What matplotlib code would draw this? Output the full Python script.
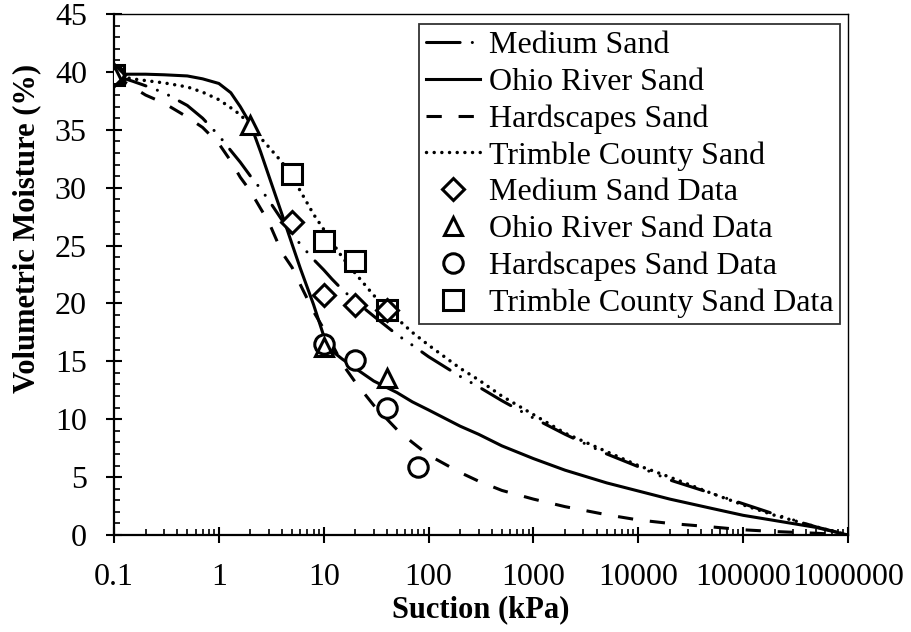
import matplotlib
matplotlib.use("Agg")
import matplotlib.pyplot as plt
from matplotlib.ticker import FixedLocator, FixedFormatter, LogLocator, MultipleLocator, NullFormatter

plt.rcParams["font.family"] = ["Liberation Serif", "DejaVu Serif"]

# fitted curves (suction in kPa, moisture in %)
suction = [0.1, 0.15, 0.2, 0.3, 0.5, 0.7, 1, 1.3, 1.6, 2, 2.5, 3, 4, 5, 6, 8, 10, 12, 15, 20,
           30, 50, 70, 100, 200, 300, 500, 1000, 2000, 5000, 1e4, 2e4, 5e4, 1e5, 2e5, 5e5, 1e6]
medium_fit = [39.7, 39.2, 38.8, 38.2, 37.1, 36.0, 34.5, 33.2, 32.2, 31.0, 29.9, 28.9, 27.2, 26.0,
              25.1, 23.8, 22.9, 22.1, 21.2, 20.2, 18.9, 17.3, 16.4, 15.4, 13.7, 12.8, 11.6, 10.1,
              8.7, 7.0, 5.9, 4.75, 3.6, 2.7, 1.8, 0.69, 0.0]
ohio_fit = [39.8, 39.8, 39.8, 39.75, 39.65, 39.4, 39.0, 38.2, 37.0, 35.5, 33.1, 31.0, 27.7, 25.1,
            23.0, 19.9, 17.2, 15.9, 15.2, 14.4, 13.3, 12.3, 11.5, 10.8, 9.4, 8.7, 7.7, 6.6,
            5.6, 4.5, 3.8, 3.1, 2.3, 1.7, 1.25, 0.65, 0.0]
hardscapes_fit = [39.7, 38.7, 38.0, 37.3, 36.1, 35.2, 33.8, 32.3, 30.9, 29.7, 28.2, 27.0, 24.4, 23.1,
                  21.6, 19.3, 17.8, 16.5, 14.8, 13.2, 11.2, 9.1, 8.0, 6.9, 5.4, 4.65, 3.85, 3.1,
                  2.45, 1.75, 1.3, 1.0, 0.7, 0.45, 0.3, 0.15, 0.0]
trimble_fit = [39.7, 39.4, 39.25, 39.05, 38.7, 38.25, 37.6, 36.9, 36.3, 35.4, 34.3, 33.5, 32.2, 30.9,
               29.7, 27.7, 26.4, 25.3, 24.0, 22.6, 20.7, 18.7, 17.5, 16.4, 14.4, 13.4, 12.0, 10.4,
               8.8, 7.2, 6.0, 5.0, 3.6, 2.6, 1.7, 0.7, 0.0]

# measured points
medium_x = [0.1, 5, 10, 20, 40]
medium_y = [39.7, 27.0, 20.7, 19.9, 19.4]
ohio_x = [0.1, 2, 10, 40]
ohio_y = [39.7, 35.4, 16.2, 13.6]
hardscapes_x = [0.1, 10, 20, 40, 80]
hardscapes_y = [39.7, 16.5, 15.1, 11.0, 5.9]
trimble_x = [0.1, 5, 10, 20, 40]
trimble_y = [39.7, 31.2, 25.4, 23.7, 19.4]

x_ticks = [0.1, 1, 10, 100, 1000, 10000, 100000, 1000000]
x_tick_labels = ["0.1", "1", "10", "100", "1000", "10000", "100000", "1000000"]

fig = plt.figure(figsize=(9.11, 6.32), dpi=100)
ax = fig.add_axes([114 / 911, 1 - 535 / 632, 734 / 911, 521 / 632])

lw = 2.2
ax.plot(suction, medium_fit, color="black", lw=lw, dashes=(11, 4, 0.01, 4, 0.01, 4),
        dash_capstyle="round", label="Medium Sand")
ax.plot(suction, ohio_fit, color="black", lw=lw, label="Ohio River Sand")
ax.plot(suction, hardscapes_fit, color="black", lw=lw, dashes=(5, 5.5), label="Hardscapes Sand")
ax.plot(suction, trimble_fit, color="black", lw=lw + 0.3, dashes=(0.01, 2.2),
        dash_capstyle="round", label="Trimble County Sand")

# white faces first, then all the outlines on top so overlapping markers stay visible
point_sets = [
    (medium_x, medium_y, "D", 11, "Medium Sand Data"),
    (ohio_x, ohio_y, "^", 13.5, "Ohio River Sand Data"),
    (hardscapes_x, hardscapes_y, "o", 14, "Hardscapes Sand Data"),
    (trimble_x, trimble_y, "s", 14, "Trimble County Sand Data"),
]
for xs, ys, marker, size, name in point_sets:
    ax.plot(xs, ys, linestyle="none", marker=marker, markersize=size,
            markerfacecolor="white", markeredgecolor="none", zorder=3)
for xs, ys, marker, size, name in point_sets:
    ax.plot(xs, ys, linestyle="none", marker=marker, markersize=size, markerfacecolor="none",
            markeredgecolor="black", markeredgewidth=2.2, zorder=4, label=name)

ax.set_xscale("log")
ax.set_xlim(0.1, 1e6)
ax.set_ylim(0, 45)
ax.xaxis.set_major_locator(FixedLocator(x_ticks))
ax.xaxis.set_major_formatter(FixedFormatter(x_tick_labels))
ax.xaxis.set_minor_locator(LogLocator(base=10, subs=range(2, 10), numticks=20))
ax.xaxis.set_minor_formatter(NullFormatter())
ax.yaxis.set_major_locator(MultipleLocator(5))
ax.yaxis.set_minor_locator(MultipleLocator(1))

ax.tick_params(which="major", direction="inout", length=12, width=1.5, labelsize=23,
               top=False, right=False)
ax.tick_params(which="minor", direction="in", length=4.5, width=1.2, top=False, right=False)
ax.tick_params(axis="x", which="major", pad=14)
ax.tick_params(axis="y", which="major", pad=13.5)

for side in ["left", "bottom"]:
    ax.spines[side].set_linewidth(1.6)
for side in ["top", "right"]:
    ax.spines[side].set_linewidth(1.0)

ax.set_xlabel("Suction (kPa)", fontsize=22, fontweight="bold")
ax.set_ylabel("Volumetric Moisture (%)", fontsize=22, fontweight="bold")
ax.xaxis.set_label_coords(0.5, -0.144)
ax.xaxis.label.set_verticalalignment("center")
ax.yaxis.set_label_coords(-0.1185, 0.589)
ax.yaxis.label.set_verticalalignment("center")

leg = ax.legend(loc="upper right", bbox_to_anchor=(0.989, 0.98), fontsize=23, frameon=True,
                fancybox=False, edgecolor="black", handlelength=1.7, handletextpad=0.28,
                borderpad=0.2, labelspacing=0.23, borderaxespad=0.0)
leg.get_frame().set_linewidth(1.3)

fig.savefig("out.png", dpi=100)
